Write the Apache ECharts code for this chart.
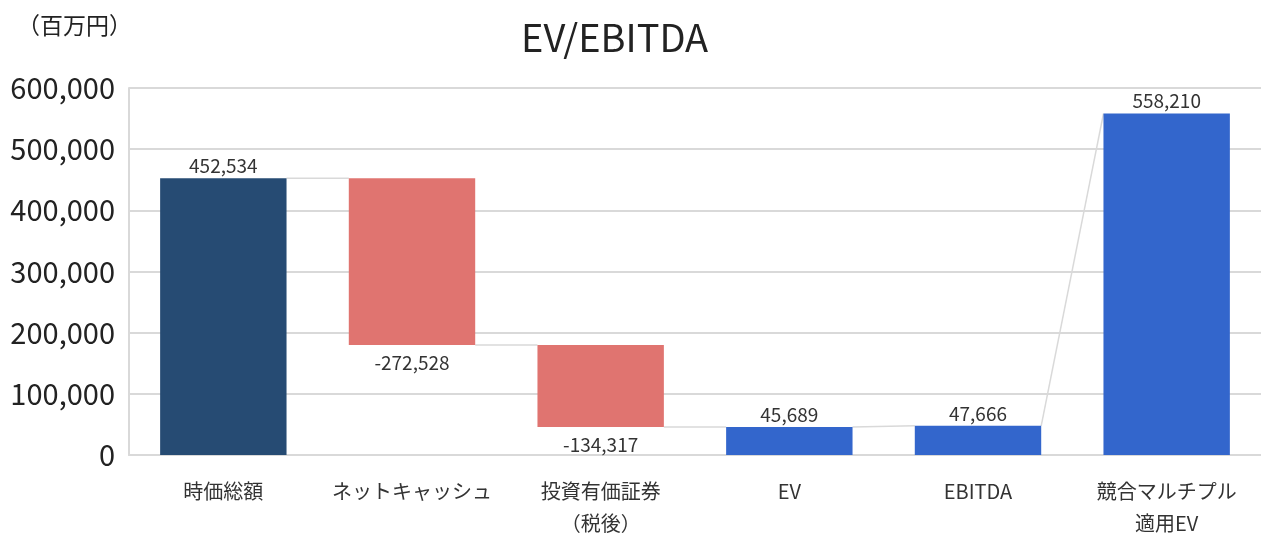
<!DOCTYPE html>
<html>
<head>
<meta charset="utf-8">
<script src="https://cdn.jsdelivr.net/npm/echarts@6/dist/echarts.min.js"></script>
<style>
  html, body { margin: 0; padding: 0; background: #fff; }
  #main { width: 1261px; height: 534px; }
</style>
</head>
<body>
<div id="main"></div>
<script>
// categories and values (百万円)
var categories = ['時価総額', 'ネットキャッシュ', '投資有価証券\n（税後）', 'EV', 'EBITDA', '競合マルチプル\n適用EV'];
var values = [452534, -272528, -134317, 45689, 47666, 558210];
// true = change from running total, false = stands on zero
var isDelta = [false, true, true, false, false, false];
var barColors = ['#264b73', '#e07470', '#e07470', '#3366cc', '#3366cc', '#3366cc'];
var yTicks = { min: 0, max: 600000, interval: 100000 };

// build waterfall pieces
var base = [], height = [], startLevel = [], endLevel = [];
var running = 0;
values.forEach(function (v, i) {
  if (isDelta[i]) {
    var next = running + v;
    base.push(Math.min(running, next));
    height.push(Math.abs(v));
    startLevel.push(running);
    endLevel.push(next);
    running = next;
  } else {
    base.push(0);
    height.push(v);
    startLevel.push(v);
    endLevel.push(v);
    running = v;
  }
});
var connectors = [];
for (var i = 0; i < values.length - 1; i++) {
  connectors.push([i, endLevel[i], startLevel[i + 1]]);
}

var fontJP = '"Noto Sans CJK JP", "Noto Sans", sans-serif';
var barRatio = 0.67;

var myChart = echarts.init(document.getElementById('main'));
var option = {
  backgroundColor: '#fff',
  animation: false,
  title: [{
    text: 'EV/EBITDA',
    left: 516, top: 14,
    textStyle: { fontFamily: fontJP, fontSize: 38, fontWeight: 'normal', color: '#222' }
  }, {
    text: '（百万円）',
    left: 12, top: 9,
    textStyle: { fontFamily: fontJP, fontSize: 23, fontWeight: 'normal', color: '#222' }
  }],
  grid: { left: 129, right: 0, top: 88, bottom: 79, outerBoundsMode: 'none' },
  xAxis: {
    type: 'category',
    data: categories,
    axisLine: { lineStyle: { color: '#d9d9d9', width: 2 } },
    axisTick: { show: false },
    axisLabel: {
      fontFamily: fontJP, fontSize: 20, color: '#333',
      margin: 20, lineHeight: 32, interval: 0
    }
  },
  yAxis: {
    type: 'value',
    min: yTicks.min, max: yTicks.max, interval: yTicks.interval,
    axisLine: { show: true, lineStyle: { color: '#d9d9d9', width: 2 } },
    axisTick: { show: false },
    splitLine: { lineStyle: { color: '#d9d9d9', width: 2 } },
    axisLabel: {
      fontFamily: fontJP, fontSize: 29, color: '#222', margin: 14,
      formatter: function (v) { return v.toLocaleString('en-US'); }
    }
  },
  series: [{
    type: 'bar',
    stack: 'wf',
    barWidth: (barRatio * 100) + '%',
    silent: true,
    itemStyle: { color: 'transparent' },
    data: base
  }, {
    type: 'bar',
    stack: 'wf',
    barWidth: (barRatio * 100) + '%',
    data: height.map(function (h, i) {
      return {
        value: h,
        itemStyle: { color: barColors[i] },
        label: {
          show: true,
          position: values[i] < 0 ? 'bottom' : 'top',
          distance: values[i] < 0 ? 8 : 3,
          fontFamily: fontJP, fontSize: 19, color: '#333',
          formatter: function () { return values[i].toLocaleString('en-US'); }
        }
      };
    })
  }, {
    type: 'custom',
    silent: true,
    z: 1,
    encode: { x: 0, y: [1, 2] },
    data: connectors,
    renderItem: function (params, api) {
      var idx = api.value(0);
      var p1 = api.coord([idx, api.value(1)]);
      var p2 = api.coord([idx + 1, api.value(2)]);
      var half = api.size([1, 0])[0] * barRatio / 2;
      return {
        type: 'line',
        shape: { x1: p1[0] + half, y1: p1[1], x2: p2[0] - half, y2: p2[1] },
        style: { stroke: '#d9d9d9', lineWidth: 1.5 }
      };
    }
  }]
};
myChart.setOption(option);
</script>
</body>
</html>
